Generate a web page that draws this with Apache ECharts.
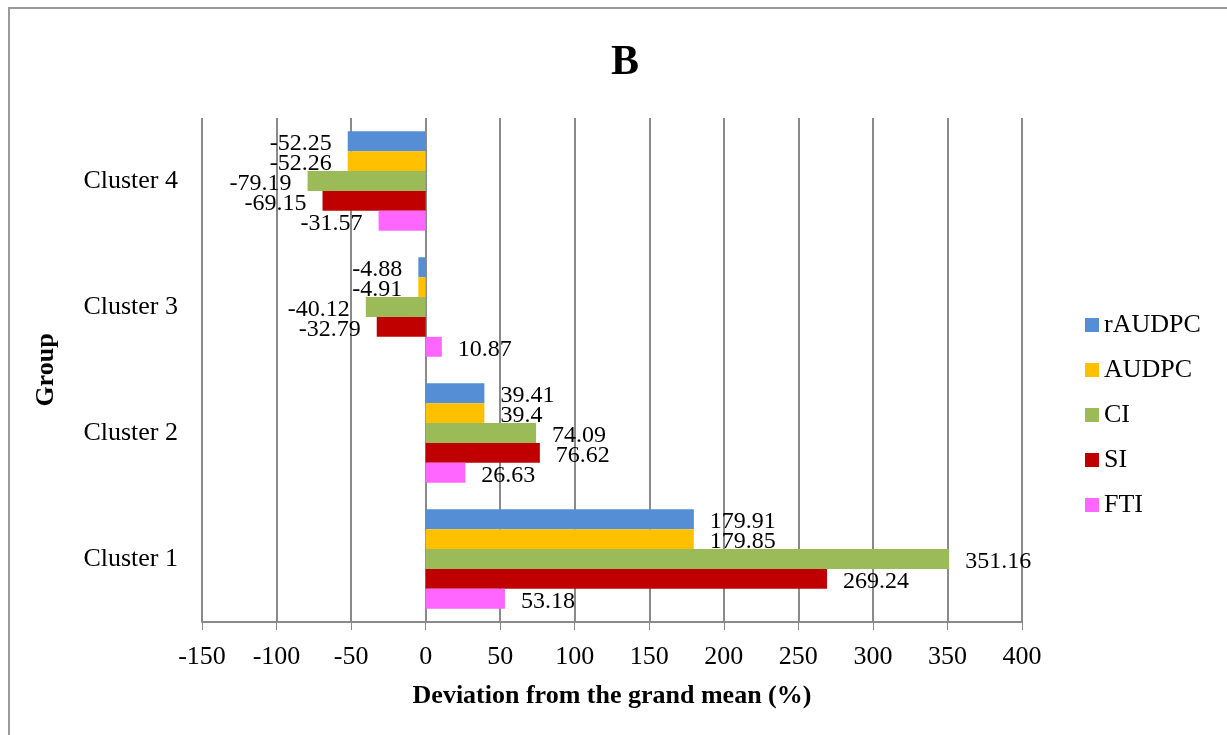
<!DOCTYPE html>
<html>
<head>
<meta charset="utf-8">
<title>B</title>
<script src="https://cdn.jsdelivr.net/npm/echarts@6/dist/echarts.min.js"></script>
<style>
  html, body { margin: 0; padding: 0; background: #ffffff; }
  #chart { width: 1227px; height: 735px; }
</style>
</head>
<body>
<div id="chart"></div>
<script>
// Groups on the category axis (bottom to top)
const groups = ['Cluster 1', 'Cluster 2', 'Cluster 3', 'Cluster 4'];

// Deviation from the grand mean (%) for each index, per cluster
const rAUDPC = [179.91, 39.41, -4.88, -52.25];
const AUDPC  = [179.85, 39.4,  -4.91, -52.26];
const CI     = [351.16, 74.09, -40.12, -79.19];
const SI     = [269.24, 76.62, -32.79, -69.15];
const FTI    = [53.18,  26.63, 10.87, -31.57];

// Value axis range
const xMin = -150, xMax = 400, xStep = 50;

const seriesDefs = [
  { name: 'rAUDPC', values: rAUDPC, color: '#558ED5' },
  { name: 'AUDPC',  values: AUDPC,  color: '#FFC000' },
  { name: 'CI',     values: CI,     color: '#9BBB59' },
  { name: 'SI',     values: SI,     color: '#C00000' },
  { name: 'FTI',    values: FTI,    color: '#FF66FF' }
];

const FONT = '"Liberation Serif", "Times New Roman", Times, serif';

const chart = echarts.init(document.getElementById('chart'), null, { renderer: 'canvas' });

chart.setOption({
  backgroundColor: '#ffffff',
  animation: false,
  textStyle: { fontFamily: FONT, color: '#000000' },
  title: {
    text: 'B',
    left: 620,
    top: 37,
    textAlign: 'center',
    textStyle: { fontFamily: FONT, fontSize: 42, fontWeight: 'bold', color: '#000000' }
  },
  graphic: [{
    type: 'rect',
    shape: { x: 9, y: 8, width: 1260, height: 780 },
    style: { fill: 'none', stroke: '#9a9a9a', lineWidth: 2 },
    silent: true,
    z: -1
  }],
  legend: {
    orient: 'vertical',
    left: 1080,
    top: 307,
    itemWidth: 14,
    itemHeight: 14,
    itemGap: 19,
    icon: 'rect',
    data: seriesDefs.map(s => s.name),
    textStyle: { fontFamily: FONT, fontSize: 26, color: '#000000', padding: [0, 0, 0, 0] }
  },
  grid: { left: 202, right: 205, top: 118, bottom: 113, containLabel: false },
  xAxis: {
    type: 'value',
    min: xMin,
    max: xMax,
    interval: xStep,
    name: 'Deviation from the grand mean (%)',
    nameLocation: 'middle',
    nameGap: 61,
    nameTextStyle: { fontFamily: FONT, fontSize: 26, fontWeight: 'bold', color: '#000000' },
    axisLine: { show: true, lineStyle: { color: '#8a8a8a', width: 2 } },
    axisTick: { show: true, length: 8, lineStyle: { color: '#8a8a8a', width: 1 } },
    axisLabel: { margin: 22, fontFamily: FONT, fontSize: 26, color: '#000000' },
    splitLine: { show: true, lineStyle: { color: '#8a8a8a', width: 2 } }
  },
  yAxis: {
    type: 'category',
    data: groups,
    name: 'Group',
    nameLocation: 'middle',
    nameGap: 143,
    nameRotate: 90,
    nameTextStyle: { fontFamily: FONT, fontSize: 26, fontWeight: 'bold', color: '#000000' },
    axisLine: { show: false },
    axisTick: { show: false },
    axisLabel: { margin: 24, fontFamily: FONT, fontSize: 26, color: '#000000' },
    splitLine: { show: false }
  },
  series: seriesDefs.map(s => ({
    name: s.name,
    type: 'bar',
    barGap: '0%',
    barCategoryGap: '21%',
    itemStyle: { color: s.color },
    label: {
      show: true,
      distance: 16,
      offset: [0, 3],
      fontFamily: FONT,
      fontSize: 24,
      color: '#000000'
    },
    data: s.values.map(v => ({
      value: v,
      label: { position: v < 0 ? 'left' : 'right' }
    }))
  }))
});
</script>
</body>
</html>
